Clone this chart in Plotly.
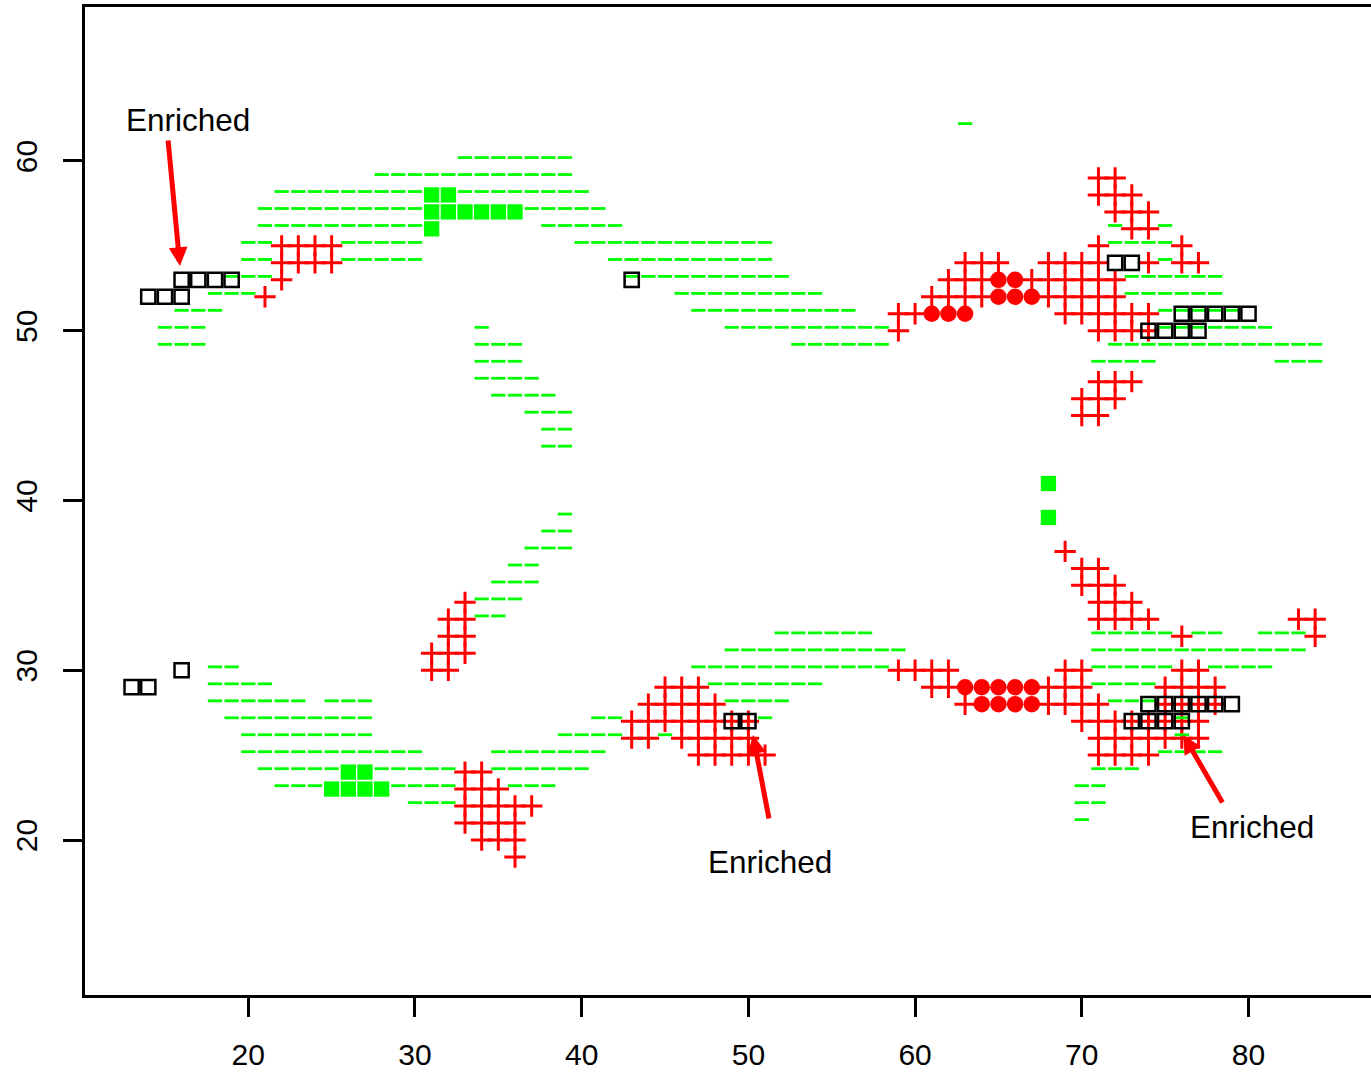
import plotly.graph_objects as go

# ---------------- data ----------------
# Each entry: (y, [x values]) for one row of the grid
dash_rows = [
    (62, [63]),
    (60, [33, 34, 35, 36, 37, 38, 39]),
    (59, [28, 29, 30, 31, 32, 33, 34, 35, 36, 37, 38, 39]),
    (58, [22, 23, 24, 25, 26, 27, 28, 29, 30, 33, 34, 35, 36, 37, 38, 39, 40]),
    (57, [21, 22, 23, 24, 25, 26, 27, 28, 29, 30, 37, 38, 39, 40, 41]),
    (56, [21, 22, 23, 24, 25, 26, 27, 28, 29, 30, 38, 39, 40, 41, 42, 72, 75]),
    (55, [20, 21, 26, 27, 28, 29, 30, 40, 41, 42, 43, 44, 45, 46, 47, 48, 49, 50, 51, 72, 73, 74, 75]),
    (54, [20, 21, 26, 27, 28, 29, 30, 42, 43, 44, 45, 46, 47, 48, 49, 50, 51, 75]),
    (53, [19, 20, 21, 43, 44, 45, 46, 47, 48, 49, 50, 51, 52, 73, 74, 75, 76, 77, 78]),
    (52, [18, 19, 20, 46, 47, 48, 49, 50, 51, 52, 53, 54, 73, 74, 75, 76, 77, 78]),
    (51, [16, 17, 18, 47, 48, 49, 50, 51, 52, 53, 54, 55, 56, 75, 76, 77, 78, 79]),
    (50, [15, 16, 17, 34, 49, 50, 51, 52, 53, 54, 55, 56, 57, 58, 75, 76, 77, 78, 79, 80, 81]),
    (49, [15, 16, 17, 34, 35, 36, 53, 54, 55, 56, 57, 58, 72, 73, 74, 75, 76, 77, 78, 79, 80, 81, 82, 83, 84]),
    (48, [34, 35, 36, 71, 72, 73, 74, 82, 83, 84]),
    (47, [34, 35, 36, 37]),
    (46, [35, 36, 37, 38]),
    (45, [37, 38, 39]),
    (44, [38, 39]),
    (43, [38, 39]),
    (39, [39]),
    (38, [38, 39]),
    (37, [37, 38, 39]),
    (36, [36, 37]),
    (35, [35, 36, 37]),
    (34, [34, 35, 36]),
    (33, [34, 35]),
    (32, [52, 53, 54, 55, 56, 57, 71, 72, 73, 74, 75, 77, 78, 81, 82, 83]),
    (31, [49, 50, 51, 52, 53, 54, 55, 56, 57, 58, 59, 71, 72, 73, 74, 75, 76, 77, 78, 79, 80, 81, 82, 83]),
    (30, [18, 19, 47, 48, 49, 50, 51, 52, 53, 54, 55, 56, 57, 58, 71, 72, 73, 74, 75, 78, 79, 80, 81]),
    (29, [18, 19, 20, 21, 48, 49, 50, 51, 52, 53, 54, 71, 72, 73, 74]),
    (28, [18, 19, 20, 21, 22, 23, 25, 26, 27, 49, 50, 51, 52, 72, 73, 74]),
    (27, [19, 20, 21, 22, 23, 24, 25, 26, 27, 41, 42, 51, 76]),
    (26, [20, 21, 22, 23, 24, 25, 26, 27, 39, 40, 41, 42, 45, 76]),
    (25, [20, 21, 22, 23, 24, 25, 26, 27, 28, 29, 30, 35, 36, 37, 38, 39, 40, 41, 75, 76, 77, 78]),
    (24, [21, 22, 23, 24, 25, 28, 29, 30, 31, 32, 35, 36, 37, 38, 39, 40, 71, 72, 73]),
    (23, [22, 23, 24, 29, 30, 31, 32, 36, 37, 38, 70, 71]),
    (22, [30, 31, 32, 70, 71]),
    (21, [70]),
]

cross_rows = [
    (59, [71, 72]),
    (58, [71, 72, 73]),
    (57, [72, 73, 74]),
    (56, [73, 74]),
    (55, [22, 23, 24, 25, 71, 76]),
    (54, [22, 23, 24, 25, 63, 64, 65, 68, 69, 70, 71, 74, 76, 77]),
    (53, [22, 62, 63, 64, 67, 68, 69, 70, 71, 72]),
    (52, [21, 61, 62, 63, 64, 68, 69, 70, 71, 72]),
    (51, [59, 60, 69, 70, 71, 72, 73, 74]),
    (50, [59, 71, 72, 73, 74]),
    (47, [71, 72, 73]),
    (46, [70, 71, 72]),
    (45, [70, 71]),
    (37, [69]),
    (36, [70, 71]),
    (35, [70, 71, 72]),
    (34, [33, 71, 72, 73]),
    (33, [32, 33, 71, 72, 73, 74, 83, 84]),
    (32, [32, 33, 76, 84]),
    (31, [31, 32, 33]),
    (30, [31, 32, 59, 60, 61, 62, 69, 70, 76, 77]),
    (29, [45, 46, 47, 61, 62, 68, 69, 70, 75, 76, 77, 78]),
    (28, [44, 45, 46, 47, 48, 63, 68, 69, 70, 71, 75, 76, 77, 78]),
    (27, [43, 44, 45, 46, 47, 48, 49, 50, 70, 71, 72, 73, 74, 75, 76, 77]),
    (26, [43, 44, 46, 47, 48, 49, 50, 71, 72, 73, 74, 75, 76, 77]),
    (25, [47, 48, 49, 50, 51, 71, 72, 73, 74]),
    (24, [33, 34]),
    (23, [33, 34, 35]),
    (22, [33, 34, 35, 36, 37]),
    (21, [33, 34, 35, 36]),
    (20, [34, 35, 36]),
    (19, [36]),
]

circle_rows = [
    (53, [65, 66]),
    (52, [65, 66, 67]),
    (51, [61, 62, 63]),
    (29, [63, 64, 65, 66, 67]),
    (28, [64, 65, 66, 67]),
]

green_square_rows = [
    (58, [31, 32]),
    (57, [31, 32, 33, 34, 35, 36]),
    (56, [31]),
    (41, [68]),
    (39, [68]),
    (24, [26, 27]),
    (23, [25, 26, 27, 28]),
]

open_square_rows = [
    (54, [72, 73]),
    (53, [16, 17, 18, 19, 43]),
    (52, [14, 15, 16]),
    (51, [76, 77, 78, 79, 80]),
    (50, [74, 75, 76, 77]),
    (30, [16]),
    (29, [13, 14]),
    (28, [74, 75, 76, 77, 78, 79]),
    (27, [49, 50, 73, 74, 75, 76]),
]

x_ticks = [20, 30, 40, 50, 60, 70, 80]
y_ticks = [20, 30, 40, 50, 60]

label_text = ["Enriched", "Enriched", "Enriched"]
label_x = [16.38, 51.28, 80.19]
label_y = [62.42, 18.73, 20.78]
arrow_tip_x = [15.90, 50.28, 76.09]
arrow_tip_y = [53.81, 26.19, 26.19]
arrow_tail_x = [15.18, 51.25, 78.49]
arrow_tail_y = [61.30, 21.18, 22.12]

# --------------------------------------------------------------
DASH_LIFT = 0.2  # the "-" glyph sits slightly above its point
FONT = "Liberation Sans, Arial, sans-serif"
GREEN = "#00FF00"
RED = "#FF0000"


def expand(rows, lift=0.0):
    xs, ys = [], []
    for yv, row in rows:
        for xv in row:
            xs.append(xv)
            ys.append(yv + lift)
    return xs, ys


fig = go.Figure()


def add_points(rows, symbol, size, color, lw, lift=0.0):
    xs, ys = expand(rows, lift)
    fig.add_trace(go.Scatter(
        x=xs, y=ys, mode="markers", hoverinfo="skip", showlegend=False,
        marker=dict(symbol=symbol, size=size, color=color,
                    line=dict(width=lw, color=color)),
    ))


add_points(cross_rows, "cross-thin", 15.3, RED, 3.0)
add_points(circle_rows, "circle", 16.5, RED, 0)
add_points(dash_rows, "line-ew", 10.2, GREEN, 2.8, DASH_LIFT)
add_points(green_square_rows, "square", 15.3, GREEN, 0)
add_points(open_square_rows, "square-open", 14.2, "black", 2.5)

annotations = []
for i in range(len(label_text)):
    annotations.append(dict(
        x=arrow_tip_x[i], y=arrow_tip_y[i], ax=arrow_tail_x[i], ay=arrow_tail_y[i],
        xref="x", yref="y", axref="x", ayref="y", text="", showarrow=True,
        arrowhead=2, arrowsize=0.75, arrowwidth=5, arrowcolor=RED,
        standoff=0, startstandoff=0,
    ))
    annotations.append(dict(
        x=label_x[i], y=label_y[i], xref="x", yref="y", text=label_text[i],
        showarrow=False, xanchor="center", yanchor="middle",
        font=dict(family=FONT, size=31.5, color="black"),
    ))

fig.update_layout(
    width=1371, height=1073,
    margin=dict(l=85, r=0, t=7, b=78, pad=0),
    paper_bgcolor="white", plot_bgcolor="white",
    font=dict(family=FONT, size=30, color="black"),
    annotations=annotations,
    xaxis=dict(
        range=[10.204, 87.35], tickvals=x_ticks, ticktext=[str(v) for v in x_ticks],
        ticks="outside", ticklen=19, tickwidth=3, tickcolor="black",
        showline=True, linewidth=3, linecolor="black", mirror=True,
        showgrid=False, zeroline=False, tickfont=dict(size=30, family=FONT),
        ticklabelstandoff=12,
    ),
    yaxis=dict(
        range=[10.869, 69.07], tickvals=y_ticks, ticktext=[str(v) for v in y_ticks],
        ticks="outside", ticklen=19, tickwidth=3, tickcolor="black",
        showline=True, linewidth=3, linecolor="black", mirror=False,
        showgrid=False, zeroline=False, tickfont=dict(size=30, family=FONT),
        tickangle=-90, ticklabelstandoff=14,
    ),
)

fig.write_html(
    "out.html",
    config={"displayModeBar": False},
    post_script="document.body.style.margin='0';document.body.style.overflow='hidden';",
)
